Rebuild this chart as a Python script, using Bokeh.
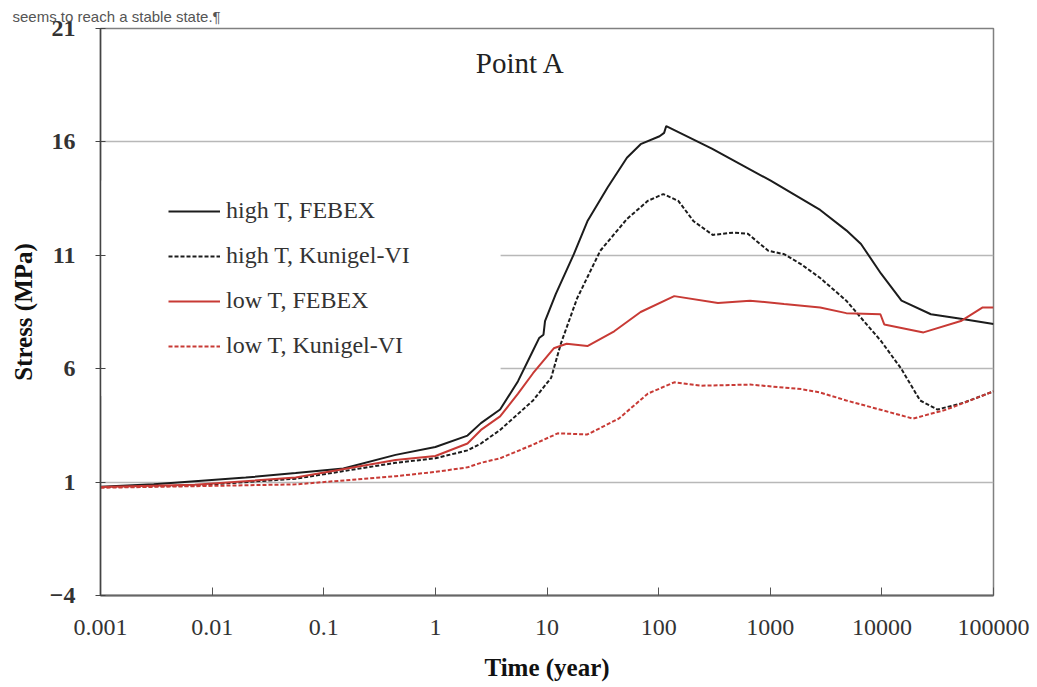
from bokeh.plotting import figure
from bokeh.models import (Range1d, FixedTicker, CustomJSTickFormatter, Label,
                          BoxAnnotation, Legend, LegendItem)
from bokeh.embed import file_html
from bokeh.resources import INLINE

# ---------------- data ----------------
t_hT_febex = [0.001, 0.003, 0.007, 0.02, 0.056, 0.15, 0.44, 1, 1.94, 2.56, 3.8,
              5.5, 7.5, 8.5, 9.3, 9.6, 12, 17.4, 23, 35, 52, 69, 102, 112, 117,
              300, 1000, 2800, 4800, 6500, 9800, 15000, 27500, 51000, 100000]
s_hT_febex = [0.8, 0.9, 1.04, 1.2, 1.4, 1.6, 2.2, 2.55, 3.05, 3.6, 4.2,
              5.45, 6.8, 7.35, 7.5, 8.1, 9.3, 11.05, 12.5, 14.0, 15.3, 15.9, 16.25, 16.4, 16.7,
              15.7, 14.3, 13.0, 12.1, 11.5, 10.2, 9.0, 8.4, 8.2, 7.97]

t_hT_kun = [0.001, 0.007, 0.056, 0.44, 1, 1.94, 2.56, 3.8, 7.5, 10.9, 13.3, 18.6,
            30, 52, 80, 110, 150, 206, 305, 470, 630, 960, 1330, 1900, 2800,
            4800, 9900, 14900, 22000, 31500, 54000, 100000]
s_hT_kun = [0.78, 0.85, 1.15, 1.85, 2.05, 2.4, 2.7, 3.3, 4.6, 5.6, 7.1, 9.1,
            11.2, 12.6, 13.4, 13.7, 13.4, 12.5, 11.9, 12.0, 11.95, 11.2, 11.05, 10.6, 10.0,
            9.0, 7.2, 6.0, 4.6, 4.2, 4.5, 5.0]

t_lT_febex = [0.001, 0.007, 0.056, 0.44, 1, 1.94, 2.56, 3.8, 5.5, 7.5, 11.5, 15,
              23, 40, 69, 138, 340, 660, 1330, 2800, 4800, 9700, 10500, 23600,
              51000, 80000, 100000]
s_lT_febex = [0.78, 0.88, 1.2, 1.97, 2.15, 2.7, 3.3, 3.9, 4.9, 5.8, 6.9, 7.1,
              7.0, 7.65, 8.5, 9.2, 8.9, 9.0, 8.85, 8.7, 8.45, 8.4, 7.95, 7.6,
              8.1, 8.7, 8.7]

t_lT_kun = [0.001, 0.007, 0.056, 0.44, 1, 1.94, 2.56, 3.8, 7.5, 12.5, 23, 44, 80,
            138, 240, 660, 1900, 2800, 4800, 19000, 38000, 100000]
s_lT_kun = [0.75, 0.82, 0.9, 1.26, 1.45, 1.65, 1.85, 2.05, 2.65, 3.15, 3.1, 3.8, 4.9,
            5.4, 5.25, 5.3, 5.1, 4.95, 4.6, 3.8, 4.2, 5.0]

x_ticks = [0.001, 0.01, 0.1, 1, 10, 100, 1000, 10000, 100000]
y_ticks = [-4, 1, 6, 11, 16, 21]

SERIF = "Liberation Serif"

p = figure(width=1037, height=687, x_axis_type="log",
           x_range=Range1d(0.001, 100000), y_range=Range1d(-4, 21),
           output_backend="svg", toolbar_location=None,
           min_border_left=100, min_border_right=44,
           min_border_top=28, min_border_bottom=92)
p.background_fill_color = "white"
p.border_fill_color = "white"
p.outline_line_color = "#808080"
p.outline_line_width = 1.5

# cut-off caption line above the chart
p.title.text = "seems to reach a stable state.\u00b6"
p.title.text_font = "Liberation Sans"
p.title.text_font_size = "15px"
p.title.text_font_style = "normal"
p.title.text_color = "#555555"
p.title.align = "left"
p.title.offset = -88
p.title.standoff = 8

# grid
p.xgrid.grid_line_color = None
p.ygrid.grid_line_color = "#b8b8b8"
p.ygrid.grid_line_width = 1.5
p.ygrid.ticker = FixedTicker(ticks=y_ticks)

# white area behind legend (covers grid lines there)
p.add_layout(BoxAnnotation(left=0.001, right=3.84, top=14.3, bottom=4.8,
                           fill_color="white", fill_alpha=1.0, line_color=None,
                           level="underlay"))

# axes
xa = p.xaxis[0]
xa.ticker = FixedTicker(ticks=x_ticks)
xa.formatter = CustomJSTickFormatter(code="return tick.toString();")
xa.minor_tick_line_color = None
xa.major_tick_in = 8
xa.major_tick_out = 0
xa.major_tick_line_color = "#555555"
xa.axis_line_color = "#666666"
xa.axis_line_width = 2
xa.major_label_text_font = SERIF
xa.major_label_text_font_size = "24px"
xa.major_label_text_color = "#333333"
xa.major_label_standoff = 24
xa.axis_label = "Time (year)"
xa.axis_label_text_font = SERIF
xa.axis_label_text_font_size = "25px"
xa.axis_label_text_font_style = "bold"
xa.axis_label_text_color = "#111111"
xa.axis_label_standoff = 16

ya = p.yaxis[0]
ya.ticker = FixedTicker(ticks=y_ticks)
ya.minor_tick_line_color = None
ya.major_tick_in = 5
ya.major_tick_out = 5
ya.major_tick_line_color = "#444444"
ya.axis_line_color = "#444444"
ya.axis_line_width = 1.5
ya.major_label_text_font = SERIF
ya.major_label_text_font_size = "24px"
ya.major_label_text_font_style = "bold"
ya.major_label_text_color = "#333333"
ya.major_label_standoff = 20
ya.axis_label = "Stress (MPa)"
ya.axis_label_text_font = SERIF
ya.axis_label_text_font_size = "25px"
ya.axis_label_text_font_style = "bold"
ya.axis_label_text_color = "#111111"
ya.axis_label_standoff = 10

BLACK = "#1c1c1c"
RED = "#c83a35"

r1 = p.line(t_hT_febex, s_hT_febex, line_color=BLACK, line_width=2)
r2 = p.line(t_hT_kun, s_hT_kun, line_color=BLACK, line_width=2, line_dash="4 2")
r3 = p.line(t_lT_febex, s_lT_febex, line_color=RED, line_width=2)
r4 = p.line(t_lT_kun, s_lT_kun, line_color=RED, line_width=2, line_dash="4 2")

legend = Legend(items=[
    LegendItem(label="high T, FEBEX", renderers=[r1]),
    LegendItem(label="high T, Kunigel-VI", renderers=[r2]),
    LegendItem(label="low T, FEBEX", renderers=[r3]),
    LegendItem(label="low T, Kunigel-VI", renderers=[r4]),
], location=(68, 236))
legend.background_fill_alpha = 0
legend.border_line_color = None
legend.padding = 10
legend.margin = 0
legend.spacing = 18
legend.glyph_width = 52
legend.glyph_height = 20
legend.label_standoff = 6
legend.label_text_font = SERIF
legend.label_text_font_size = "24px"
legend.label_text_color = "#333333"
p.add_layout(legend)

# chart title inside the plot
p.add_layout(Label(x=5.8, y=19.47, text="Point A", text_font=SERIF,
                   text_font_size="29px", text_color="#222222",
                   text_align="center", text_baseline="middle"))

open("out.html", "w").write(file_html(p, INLINE))
